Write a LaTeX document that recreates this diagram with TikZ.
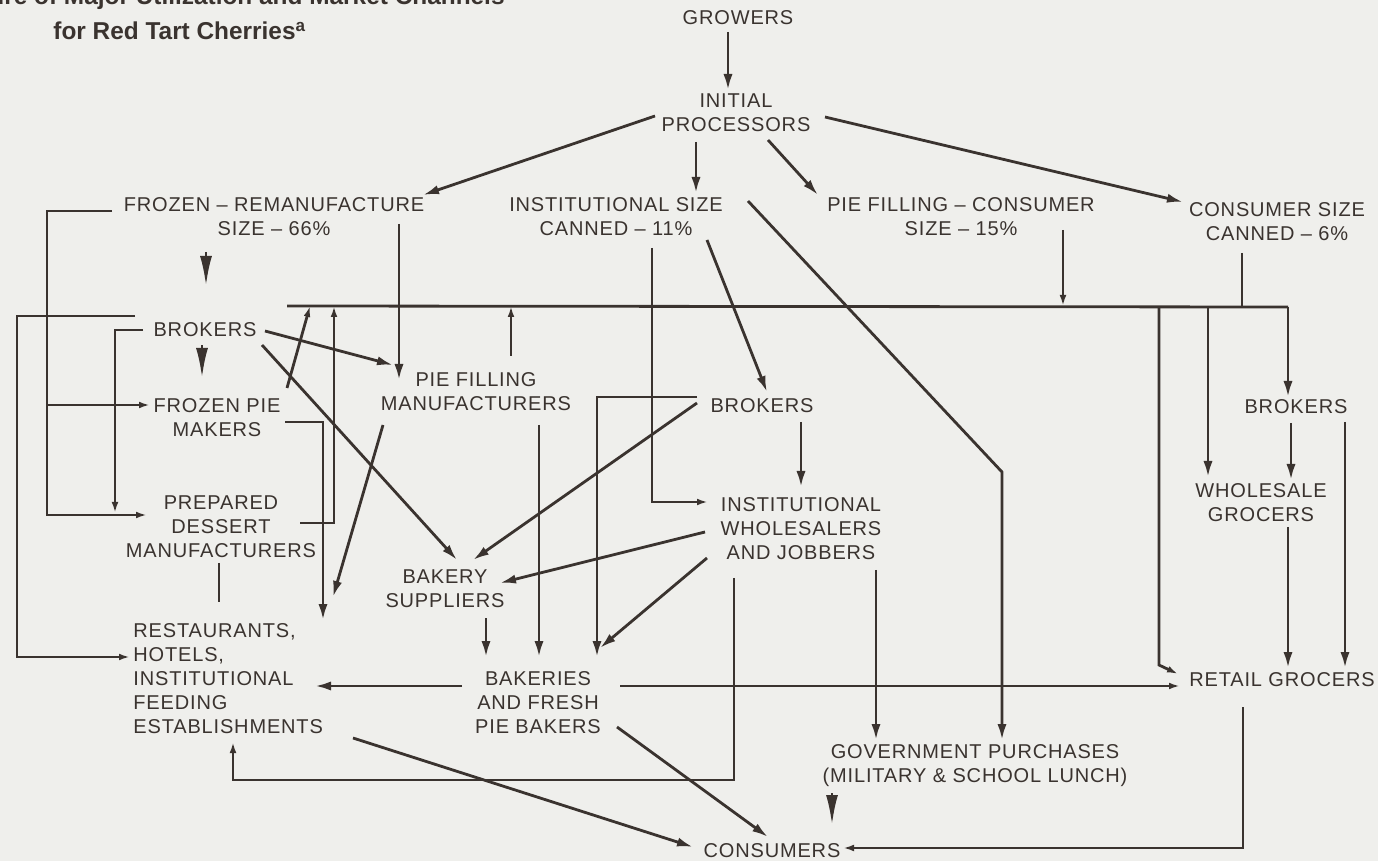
\documentclass[tikz,border=0pt]{standalone}
\usepackage{fontspec}
\setmainfont{Liberation Sans}[LetterSpace=4.2]
\newfontfamily\titlefont{Liberation Sans}
\usetikzlibrary{arrows.meta}
\definecolor{ink}{HTML}{3A332F}
\definecolor{paper}{HTML}{EFEFEC}
\tikzset{lbl/.style={font=\fontsize{10}{12}\selectfont, text=ink, align=center, inner sep=0pt}}
\tikzset{ttl/.style={font={\titlefont\fontsize{12.2}{14}\selectfont\bfseries}, text=ink, inner sep=0pt}}
\tikzset{link/.style={draw=ink, line width=1.4pt}}
\tikzset{arr/.style={link,-{Latex[length=8pt,width=4.6pt]}}}
\tikzset{sarr/.style={link,-{Latex[length=5.5pt,width=3.4pt]}}}
\tikzset{tiponly/.style={link,-{Latex[length=15pt,width=6pt]}}}

\begin{document}
\begin{tikzpicture}[x=0.5pt,y=-0.5pt]
    \fill[paper] (0,0) rectangle (1378,861);
    \clip (0,0) rectangle (1378,861);

    \node[ttl, anchor=base east] (ttlA) at (505,5) {Structure of Major Utilization and Market Channels};
    \node[ttl, anchor=base west] (ttlB) at (53,40) {for Red Tart Cherries\textsuperscript{a}};

    \node[lbl] (grow) at (738,18) {GROWERS};
    \node[lbl] (init) at (736,113) {INITIAL\\PROCESSORS};
    \node[lbl] (frz) at (274,217) {FROZEN – REMANUFACTURE\\SIZE – 66\%};
    \node[lbl] (inst) at (616,217) {INSTITUTIONAL SIZE\\CANNED – 11\%};
    \node[lbl] (pfc) at (961,217) {PIE FILLING – CONSUMER\\SIZE – 15\%};
    \node[lbl] (csc) at (1277,222) {CONSUMER SIZE\\CANNED – 6\%};
    \node[lbl] (brkL) at (205,330) {BROKERS};
    \node[lbl] (pfm) at (476,392) {PIE FILLING\\MANUFACTURERS};
    \node[lbl] (fpm) at (217,418) {FROZEN PIE\\MAKERS};
    \node[lbl] (pdm) at (221,527) {PREPARED\\DESSERT\\MANUFACTURERS};
    \node[lbl, align=left, anchor=west] (rest) at (133,679) {RESTAURANTS,\\HOTELS,\\INSTITUTIONAL\\FEEDING\\ESTABLISHMENTS};
    \node[lbl] (brkM) at (762,406) {BROKERS};
    \node[lbl] (iwj) at (801,529) {INSTITUTIONAL\\WHOLESALERS\\AND JOBBERS};
    \node[lbl] (bsup) at (445,589) {BAKERY\\SUPPLIERS};
    \node[lbl] (bak) at (538,703) {BAKERIES\\AND FRESH\\PIE BAKERS};
    \node[lbl] (gov) at (975,766) {GOVERNMENT PURCHASES\\(MILITARY \& SCHOOL LUNCH)};
    \node[lbl] (cons) at (772,851) {CONSUMERS};
    \node[lbl] (ret) at (1282,680) {RETAIL GROCERS};
    \node[lbl] (brkR) at (1296,407) {BROKERS};
    \node[lbl] (wgr) at (1261,503) {WHOLESALE\\GROCERS};

    \coordinate (busW) at (287,306);
    \coordinate (busE) at (1288,307);

    % growers and initial processors
    \draw[arr] ([shift={(-10,14)}]grow.center) -- ([shift={(-8,-23)}]init.center);
    \draw[arr] ([shift={(-81,3)}]init.center) -- ([shift={(149,-22)}]frz.center);
    \draw[arr] ([shift={(-40,29)}]init.center) -- ([shift={(80,-24)}]inst.center);
    \draw[arr] ([shift={(32,27)}]init.center) -- ([shift={(-143,-22)}]pfc.center);
    \draw[arr] ([shift={(89,4)}]init.center) -- ([shift={(-94,-20)}]csc.center);

    % frozen - remanufacture
    \draw[tiponly] ([shift={(-68,35)}]frz.center) -- ([shift={(1,-44)}]brkL.center);
    \draw[sarr] ([shift={(-162,-6)}]frz.center) -| ([shift={(-174,-12)}]pdm.center) -- ([shift={(-74,-12)}]pdm.center);
    \draw[sarr] ([shift={(-170,-13)}]fpm.center) -- ([shift={(-67,-13)}]fpm.center);
    \draw[arr] ([shift={(125,7)}]frz.center) -- ([shift={(-77,-12)}]pfm.center);

    % left brokers
    \draw[sarr] ([shift={(-70,-14)}]brkL.center) -| ([shift={(-116,-22)}]rest.west) -- ([shift={(-3,-22)}]rest.west);
    \draw[sarr] ([shift={(-62,0)}]brkL.center) -| ([shift={(-106,-14)}]pdm.center);
    \draw[tiponly] ([shift={(-3,15)}]brkL.center) -- ([shift={(-15,-40)}]fpm.center);
    \draw[arr] ([shift={(60,1)}]brkL.center) -- ([shift={(-83,-27)}]pfm.center);
    \draw[arr] ([shift={(57,15)}]brkL.center) -- ([shift={(12,-29)}]bsup.center);

    % long line to the retail side
    \draw[link] (busW) -- (busE);
    \draw[arr] (busE) -- ([shift={(-8,-10)}]brkR.center);
    \draw[sarr] ([shift={(70,-30)}]fpm.center) -- ([shift={(23,0)}]busW);
    \draw[sarr] ([shift={(79,-4)}]pdm.center) -| ([shift={(47,0)}]busW);
    \draw[sarr] ([shift={(35,-36)}]pfm.center) -- ([shift={(224,0)}]busW);
    \draw[sarr] ([shift={(102,13)}]pfc.center) -- ([shift={(776,0)}]busW);
    \draw[link] ([shift={(-35,31)}]csc.center) -- ([shift={(-46,0)}]busE);
    \draw[arr] ([shift={(-80,0)}]busE) -- ([shift={(-53,-26)}]wgr.center);
    \draw[sarr] ([shift={(-129,0)}]busE) -- ([shift={(-123,-15)}]ret.center) -- ([shift={(-104,-6)}]ret.center);

    % into restaurants
    \draw[arr] ([shift={(68,4)}]fpm.center) -| ([shift={(190,-59)}]rest.west);
    \draw[arr] ([shift={(-93,33)}]pfm.center) -- ([shift={(200,-82)}]rest.west);
    \draw[link] ([shift={(-2,36)}]pdm.center) -- ([shift={(86,-77)}]rest.west);

    % institutional size
    \draw[sarr] ([shift={(36,31)}]inst.center) |- ([shift={(-93,-27)}]iwj.center);
    \draw[arr] ([shift={(91,23)}]inst.center) -- ([shift={(5,-14)}]brkM.center);
    \draw[arr] ([shift={(132,-16)}]inst.center) -- ([shift={(27,-294)}]gov.center) -- ([shift={(27,-26)}]gov.center);

    % middle brokers
    \draw[arr] ([shift={(-65,-9)}]brkM.center) -| ([shift={(59,-46)}]bak.center);
    \draw[arr] ([shift={(-65,-3)}]brkM.center) -- ([shift={(28,-29)}]bsup.center);
    \draw[arr] ([shift={(39,16)}]brkM.center) -- ([shift={(0,-42)}]iwj.center);

    % wholesalers and jobbers
    \draw[arr] ([shift={(-96,3)}]iwj.center) -- ([shift={(55,-6)}]bsup.center);
    \draw[arr] ([shift={(-94,29)}]iwj.center) -- ([shift={(62,-55)}]bak.center);
    \draw[sarr] ([shift={(-67,49)}]iwj.center) |- ([shift={(100,101)}]rest.west) -- ([shift={(100,63)}]rest.west);
    \draw[arr] ([shift={(75,41)}]iwj.center) -- ([shift={(-99,-26)}]gov.center);

    % into bakeries
    \draw[arr] ([shift={(63,33)}]pfm.center) -- ([shift={(1,-46)}]bak.center);
    \draw[arr] ([shift={(41,29)}]bsup.center) -- ([shift={(-52,-46)}]bak.center);

    % bakeries and the consumers
    \draw[arr] ([shift={(-76,-17)}]bak.center) -- ([shift={(182,7)}]rest.west);
    \draw[sarr] ([shift={(82,-17)}]bak.center) -- ([shift={(-102,6)}]ret.center);
    \draw[arr] ([shift={(79,24)}]bak.center) -- ([shift={(-4,-14)}]cons.center);
    \draw[arr] ([shift={(220,59)}]rest.west) -- ([shift={(-79,-4)}]cons.center);
    \draw[tiponly] ([shift={(-143,27)}]gov.center) -- ([shift={(60,-26)}]cons.center);
    \draw[sarr] ([shift={(-39,27)}]ret.center) |- ([shift={(71,-3)}]cons.center);

    % right brokers and grocers
    \draw[arr] ([shift={(-5,16)}]brkR.center) -- ([shift={(30,-23)}]wgr.center);
    \draw[arr] ([shift={(49,15)}]brkR.center) -- ([shift={(63,-12)}]ret.center);
    \draw[arr] ([shift={(27,24)}]wgr.center) -- ([shift={(6,-12)}]ret.center);

\end{tikzpicture}
\end{document}
